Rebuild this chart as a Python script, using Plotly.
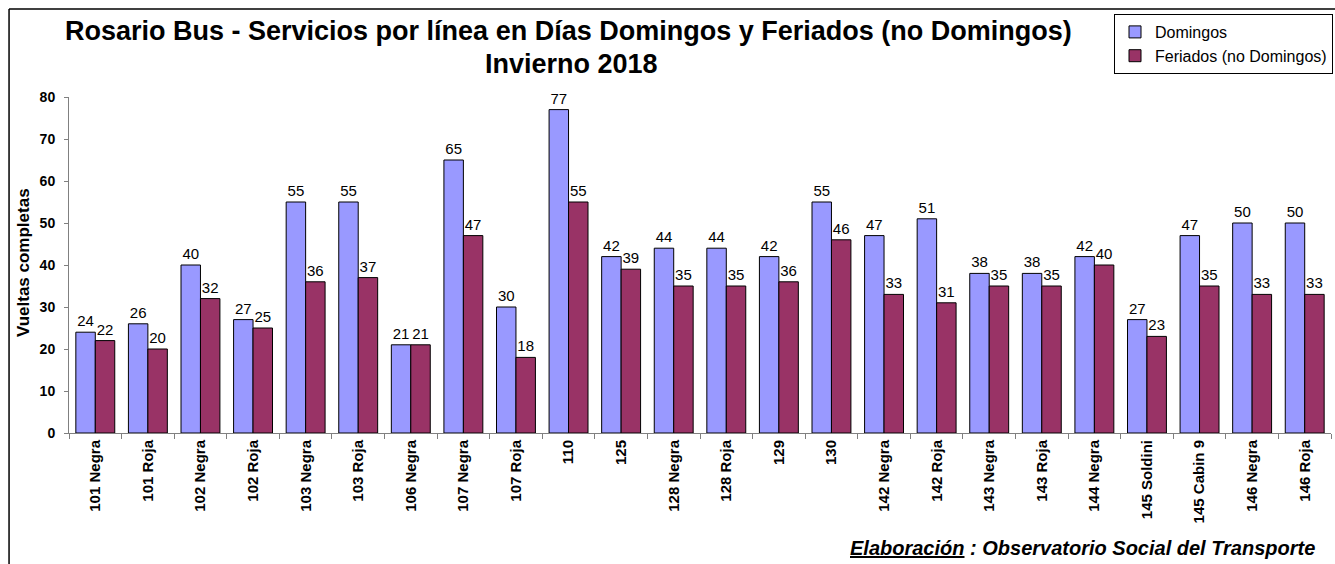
import plotly.graph_objects as go

# data
lineas = [
	'101 Negra', '101 Roja', '102 Negra', '102 Roja', '103 Negra', '103 Roja', '106 Negra', '107 Negra',
	'107 Roja', '110', '125', '128 Negra', '128 Roja', '129', '130', '142 Negra', '142 Roja', '143 Negra',
	'143 Roja', '144 Negra', '145 Soldini', '145 Cabin 9', '146 Negra', '146 Roja',
]
domingos = [24, 26, 40, 27, 55, 55, 21, 65, 30, 77, 42, 44, 44, 42, 55, 47, 51, 38, 38, 42, 27, 47, 50, 50]
feriados = [22, 20, 32, 25, 36, 37, 21, 47, 18, 55, 39, 35, 35, 36, 46, 33, 31, 35, 35, 40, 23, 35, 33, 33]
y_ticks = [0, 10, 20, 30, 40, 50, 60, 70, 80]

FONT = 'Arial, Liberation Sans, sans-serif'

# plot area in pixels, used to place things outside it
L, R, T, B = 69, 1332, 97, 433
W, H = 1335, 564


def px_x(p):
	return (p - L) / (R - L)


def px_y(p):
	return (B - p) / (B - T)


fig = go.Figure()
fig.add_trace(go.Bar(
	name='Domingos',
	x=lineas,
	y=domingos,
	marker={'color': '#9999FF', 'line': {'color': 'black', 'width': 1}},
	text=domingos,
	textposition='outside',
	textfont={'size': 15, 'color': 'black', 'family': FONT},
	cliponaxis=False,
))
fig.add_trace(go.Bar(
	name='Feriados (no Domingos)',
	x=lineas,
	y=feriados,
	marker={'color': '#993366', 'line': {'color': 'black', 'width': 1}},
	text=feriados,
	textposition='outside',
	textfont={'size': 15, 'color': 'black', 'family': FONT},
	cliponaxis=False,
))

fig.update_layout(
	width=W,
	height=H,
	margin={'l': L, 'r': W - R, 't': T, 'b': H - B, 'pad': 0},
	paper_bgcolor='white',
	plot_bgcolor='white',
	font={'family': FONT, 'color': 'black'},
	barmode='group',
	bargap=0.26,
	bargroupgap=0,
	uniformtext={'mode': 'show', 'minsize': 8},
	legend={
		'x': px_x(1333), 'y': px_y(14), 'xanchor': 'right', 'yanchor': 'top',
		'bordercolor': 'black', 'borderwidth': 1, 'bgcolor': 'white',
		'font': {'size': 16, 'family': FONT},
		'tracegroupgap': 0,
	},
	shapes=[
		{'type': 'line', 'xref': 'paper', 'yref': 'paper', 'x0': px_x(9), 'x1': px_x(9),
			'y0': px_y(9), 'y1': px_y(600), 'line': {'color': 'black', 'width': 1.5}},
		{'type': 'line', 'xref': 'paper', 'yref': 'paper', 'x0': px_x(9), 'x1': px_x(1400),
			'y0': px_y(9), 'y1': px_y(9), 'line': {'color': 'black', 'width': 1.5}},
	],
	annotations=[
		{'text': '<b>Rosario Bus - Servicios por línea en Días Domingos y Feriados (no Domingos)</b>',
			'xref': 'paper', 'yref': 'paper', 'x': px_x(569), 'y': px_y(31),
			'xanchor': 'center', 'yanchor': 'middle', 'showarrow': False,
			'font': {'size': 27, 'family': FONT}},
		{'text': '<b>Invierno 2018</b>',
			'xref': 'paper', 'yref': 'paper', 'x': px_x(572), 'y': px_y(64),
			'xanchor': 'center', 'yanchor': 'middle', 'showarrow': False,
			'font': {'size': 27, 'family': FONT}},
		{'text': '<b>Vueltas completas</b>', 'textangle': -90,
			'xref': 'paper', 'yref': 'paper', 'x': px_x(23), 'y': px_y(263),
			'xanchor': 'center', 'yanchor': 'middle', 'showarrow': False,
			'font': {'size': 17, 'family': FONT}},
		{'text': '<b><i><u>Elaboración</u> : Observatorio Social del Transporte</i></b>',
			'xref': 'paper', 'yref': 'paper', 'x': px_x(1318), 'y': px_y(548),
			'xanchor': 'right', 'yanchor': 'middle',
			'showarrow': False, 'font': {'size': 20, 'family': FONT}},
	],
)

fig.update_xaxes(
	showline=True, linecolor='#808080', linewidth=1,
	ticks='outside', tickson='boundaries', ticklen=5, tickcolor='#808080',
	tickangle=-90, tickfont={'size': 15, 'family': FONT, 'weight': 'bold'},
	showgrid=False,
)
fig.update_yaxes(
	range=[0, 80], tickvals=y_ticks,
	showline=True, linecolor='#808080', linewidth=1,
	ticks='outside', ticklen=4, tickcolor='#808080', ticklabelstandoff=6,
	tickfont={'size': 14, 'family': FONT, 'weight': 'bold'},
	showgrid=False, zeroline=False,
)

# the page has a default body margin, drop it so the chart sits at the window corner
fig.write_html(
	'out.html',
	config={'displayModeBar': False},
	post_script="document.body.style.margin='0';",
)
